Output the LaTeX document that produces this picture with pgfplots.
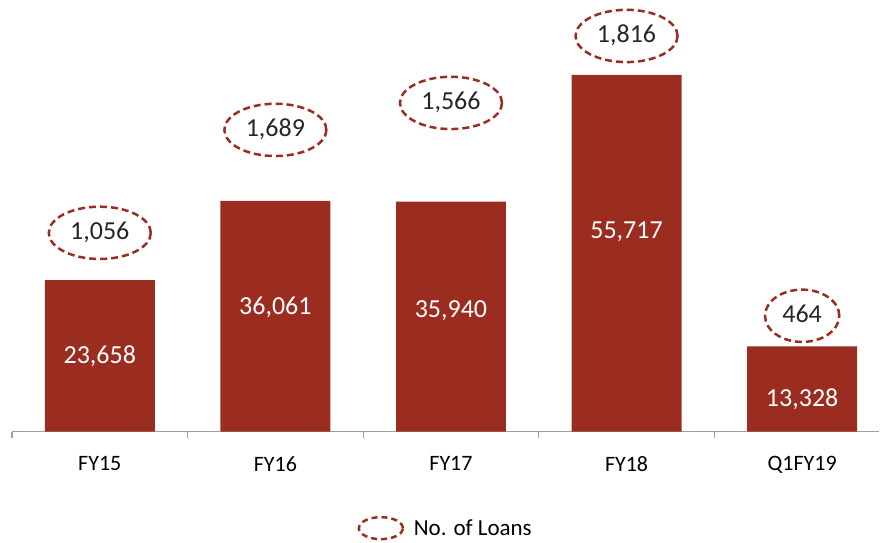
\documentclass[border=0pt]{standalone}
\usepackage{pgfplots}
\pgfplotsset{compat=1.18}
\usepackage{pgfplotstable}
\usepackage{fontspec}
\setmainfont{Carlito}
\usetikzlibrary{shapes.geometric}
\definecolor{barred}{HTML}{9B2D20}
\definecolor{axgray}{HTML}{A0A0A0}
\definecolor{txt}{HTML}{262626}
% x, value, y of value label, y of ellipse, number of loans
\pgfplotstableread{
x val mid ell loans
0 23658 11706 31058 1056
1 36061 19354 47133 1689
2 35940 18886 51347 1566
3 55717 31216 61804 1816
4 13328 4995 18104 464
}\datatable
\begin{document}
\begin{tikzpicture}
\begin{axis}[
  at={(0pt,0pt)}, anchor=south west,
  scale only axis,
  width=868pt, height=432pt,
  xmin=-0.5, xmax=4.44,
  ymin=0, ymax=67422,
  axis x line=bottom,
  axis y line=none,
  x axis line style={axgray, line width=1.2pt, -},
  xtick={0,1,2,3,4},
  xticklabels={FY15,FY16,FY17,FY18,Q1FY19},
  major tick length=0pt,
  extra x ticks={-0.5,0.5,1.5,2.5,3.5},
  extra x tick labels={},
  extra x tick style={major tick length=6pt, tick style={axgray, line width=1.2pt}, tick align=outside},
  xticklabel style={font=\fontsize{22}{26}\selectfont, text=black, yshift=-21pt},
  /pgf/number format/.cd, fixed, precision=0, 1000 sep={,}, assume math mode=true,
  /pgfplots/.cd,
  legend style={at={(0.5,-0.19)}, anchor=north, draw=none, fill=none,
    font=\fontsize{23}{27}\selectfont, legend cell align=left},
  clip=false,
]
\addplot[ybar, bar width=110pt, fill=barred, draw=none, forget plot]
  table[x=x, y=val] {\datatable};
\addplot[draw=none, mark=none, forget plot,
  nodes near coords, point meta=explicit,
  nodes near coords style={anchor=center, text=white, font=\fontsize{26}{30}\selectfont}]
  table[x=x, y=mid, meta=val] {\datatable};
\addplot[draw=none, mark=none,
  nodes near coords, point meta=explicit,
  nodes near coords style={anchor=center, shape=ellipse, draw=barred, line width=2.5pt,
    dash pattern=on 7pt off 4pt, inner xsep=6.5pt, inner ysep=7.5pt,
    text height=18pt, text depth=4pt,
    text=txt, font=\fontsize{26}{30}\selectfont},
  legend image code/.code={\draw[barred, line width=2.5pt, dash pattern=on 6pt off 4pt] (23pt,0pt) ellipse (22pt and 11pt);
    \path (0pt,0pt) -- (54pt,0pt);}]
  table[x=x, y=ell, meta=loans] {\datatable};
\addlegendentry{No. of Loans}
\end{axis}
\useasboundingbox (-12pt,-111pt) rectangle (868pt,432pt);
\end{tikzpicture}
\end{document}
